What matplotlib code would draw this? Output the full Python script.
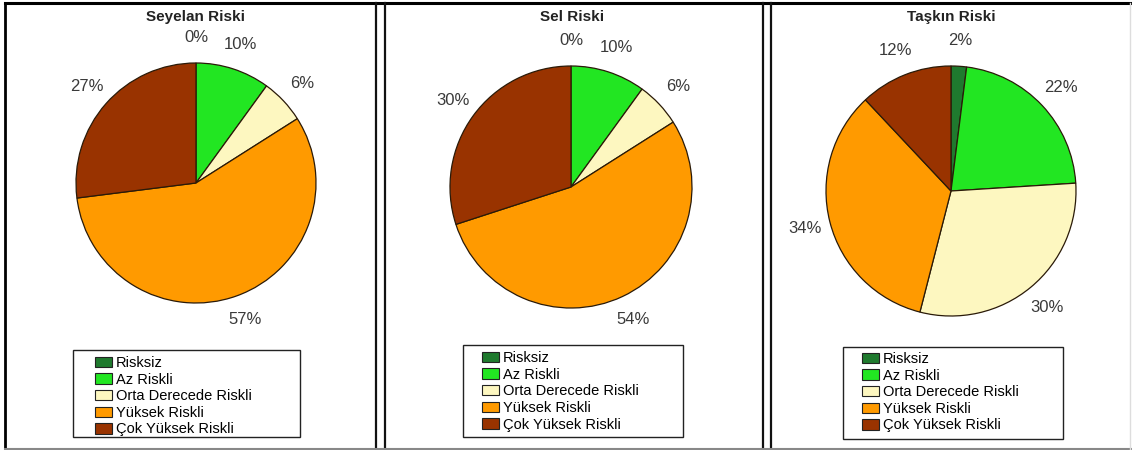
import matplotlib
matplotlib.use("Agg")
import matplotlib.pyplot as plt
from matplotlib.patches import Rectangle, Patch
from matplotlib.lines import Line2D

plt.rcParams['font.family'] = ['Liberation Sans', 'DejaVu Sans']

categories = ["Risksiz", "Az Riskli", "Orta Derecede Riskli", "Yüksek Riskli", "Çok Yüksek Riskli"]
colors = ["#1f7a2e", "#22e622", "#fdf7c0", "#ff9a00", "#993300"]

titles = ["Seyelan Riski", "Sel Riski", "Taşkın Riski"]
seyelan = [0, 10, 6, 57, 27]
sel = [0, 10, 6, 54, 30]
taskin = [2, 22, 30, 34, 12]
series = [seyelan, sel, taskin]

W, H = 1132, 450
fig = plt.figure(figsize=(W / 100, H / 100), dpi=100)
fig.patch.set_facecolor("white")

# layout (pixels)
pie_geo = [(196, 183, 120), (571, 187, 121), (951, 191, 125)]
title_x = [196, 572, 951]
legend_rect = [(73, 350, 300, 437), (463, 345, 683, 437), (843, 347, 1063, 439)]
legend_anchor = [(95, 356), (482, 351), (862, 352)]


def fx(x):
    return x / W


def fy(y):
    return 1 - y / H


for i, vals in enumerate(series):
    cx, cy, r = pie_geo[i]
    ax = fig.add_axes([fx(cx - r), fy(cy + r), 2 * r / W, 2 * r / H])
    ax.pie(vals, colors=colors, startangle=90, counterclock=False,
           autopct='%.0f%%', pctdistance=1.21,
           wedgeprops=dict(edgecolor="#2a1a08", linewidth=0.9),
           textprops=dict(fontsize=12, color="#3a3a3a"))
    ax.set_xlim(-1, 1)
    ax.set_ylim(-1, 1)
    ax.set_aspect('equal')
    ax.axis('off')

    fig.text(fx(title_x[i]), fy(17), titles[i], ha='center', va='center',
             fontsize=11, fontweight='bold', color="#222222")

    x0, y0, x1, y1 = legend_rect[i]
    fig.patches.append(Rectangle((fx(x0), fy(y1)), (x1 - x0) / W, (y1 - y0) / H,
                                 transform=fig.transFigure, facecolor='white',
                                 edgecolor='#222222', linewidth=1.0))
    handles = [Patch(facecolor=c, edgecolor='#222222', linewidth=0.8) for c in colors]
    ax_, ay_ = legend_anchor[i]
    fig.legend(handles, categories, loc='upper left',
               bbox_to_anchor=(fx(ax_), fy(ay_)), bbox_transform=fig.transFigure,
               frameon=False, fontsize=10.5, borderpad=0, borderaxespad=0,
               handlelength=1.15, handleheight=0.7, handletextpad=0.3,
               labelspacing=0.18)

# panel borders
def line(x0, y0, x1, y1, color, lw):
    fig.add_artist(Line2D([fx(x0), fx(x1)], [fy(y0), fy(y1)], transform=fig.transFigure,
                          color=color, linewidth=lw))

line(5, 3, 1131, 3, 'black', 2.2)
line(5, 3, 5, 449, 'black', 2.0)
for x in (376, 385, 763, 771):
    line(x, 3, x, 449, '#111111', 1.6)
line(5, 449, 1131, 449, '#888888', 1.5)
line(1130, 3, 1130, 449, '#dddddd', 1.0)

fig.savefig("out.png", dpi=100, facecolor='white')
